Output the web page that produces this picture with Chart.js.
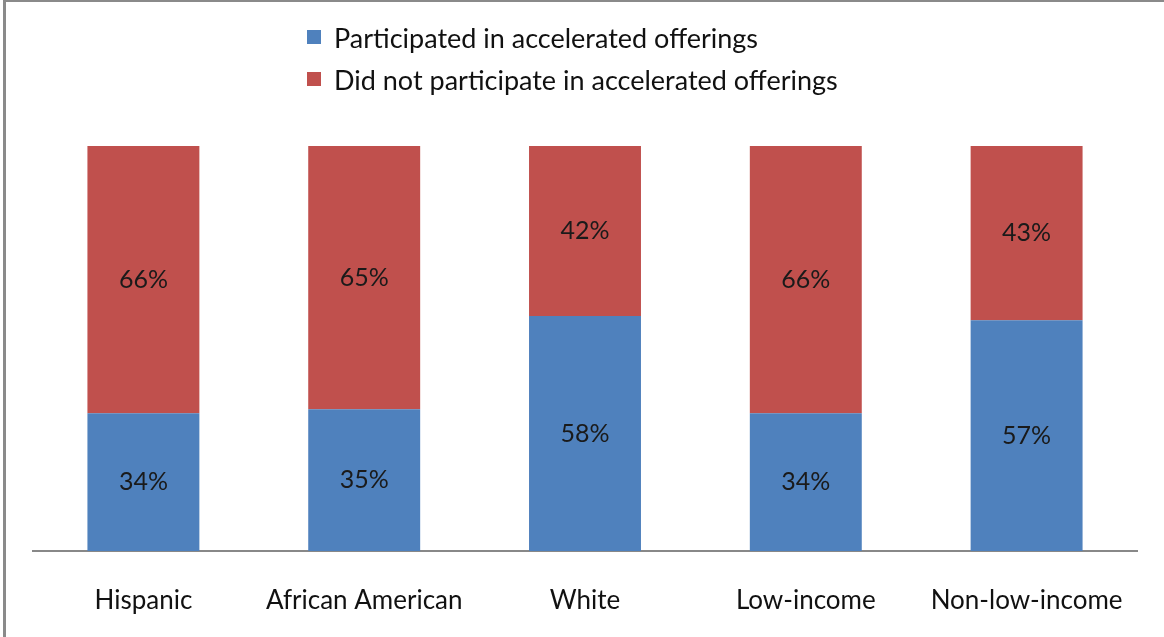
<!DOCTYPE html>
<html>
<head>
<meta charset="utf-8">
<script src="https://cdn.jsdelivr.net/npm/chart.js@4"></script>
<style>
  html, body { margin: 0; padding: 0; background: #fff; }
  #wrap { position: relative; width: 1164px; height: 637px; overflow: hidden; }
  #frame {
    position: absolute; left: 3px; top: 0; width: 1158px; height: 640px;
    border-top: 2px solid #8a8a8a; border-left: 3px solid #8a8a8a; border-right: 2px solid #8a8a8a;
    pointer-events: none;
  }
  .legend { position: absolute; left: 307px; font-family: Lato, sans-serif; font-size: 27px; color: #111; }
  .legend div { display: flex; align-items: center; height: 42px; }
  .legend span.box { display: inline-block; width: 14px; height: 14px; margin-right: 13px; }
</style>
</head>
<body>
<div id="wrap">
  <canvas id="chart"></canvas>
  <div class="legend" id="legend" style="top:16px"></div>
  <div id="frame"></div>
</div>
<script>
const categories = ['Hispanic', 'African American', 'White', 'Low-income', 'Non-low-income'];
const participated = [34, 35, 58, 34, 57];
const notParticipated = [66, 65, 42, 66, 43];
const seriesNames = ['Participated in accelerated offerings', 'Did not participate in accelerated offerings'];
const seriesColors = ['#4F81BD', '#C0504D'];

const legendEl = document.getElementById('legend');
seriesNames.forEach((name, i) => {
    const row = document.createElement('div');
    const box = document.createElement('span');
    box.className = 'box';
    box.style.background = seriesColors[i];
    row.appendChild(box);
    row.appendChild(document.createTextNode(name));
    legendEl.appendChild(row);
});

// draw the percentage in the middle of each segment
const segmentLabels = {
    id: 'segmentLabels',
    afterDatasetsDraw(chart) {
        const ctx = chart.ctx;
        ctx.save();
        ctx.font = '25px Lato, sans-serif';
        ctx.fillStyle = '#1a1a1a';
        ctx.textAlign = 'center';
        ctx.textBaseline = 'middle';
        chart.data.datasets.forEach((ds, di) => {
            chart.getDatasetMeta(di).data.forEach((bar, i) => {
                ctx.fillText(ds.data[i] + '%', bar.x, (bar.y + bar.base) / 2);
            });
        });
        ctx.restore();
    }
};

const ctx = document.getElementById('chart');
ctx.width = 1164;
ctx.height = 637;

new Chart(ctx, {
    type: 'bar',
    data: {
        labels: categories,
        datasets: [
            { label: seriesNames[0], data: participated, backgroundColor: seriesColors[0] },
            { label: seriesNames[1], data: notParticipated, backgroundColor: seriesColors[1] }
        ]
    },
    options: {
        responsive: false,
        animation: false,
        datasets: { bar: { categoryPercentage: 1, barPercentage: 0.507 } },
        layout: { padding: { left: 33, right: 27, top: 146, bottom: 22 } },
        plugins: { legend: { display: false }, tooltip: { enabled: false } },
        scales: {
            x: {
                stacked: true,
                grid: { display: false, drawTicks: false },
                border: { display: true, color: '#888888', width: 2 },
                ticks: { padding: 34, color: '#111', font: { family: 'Lato', size: 26 } },
                afterFit(scale) { scale.height = 64; }
            },
            y: { stacked: true, min: 0, max: 100, display: false }
        }
    },
    plugins: [segmentLabels]
});
</script>
</body>
</html>
